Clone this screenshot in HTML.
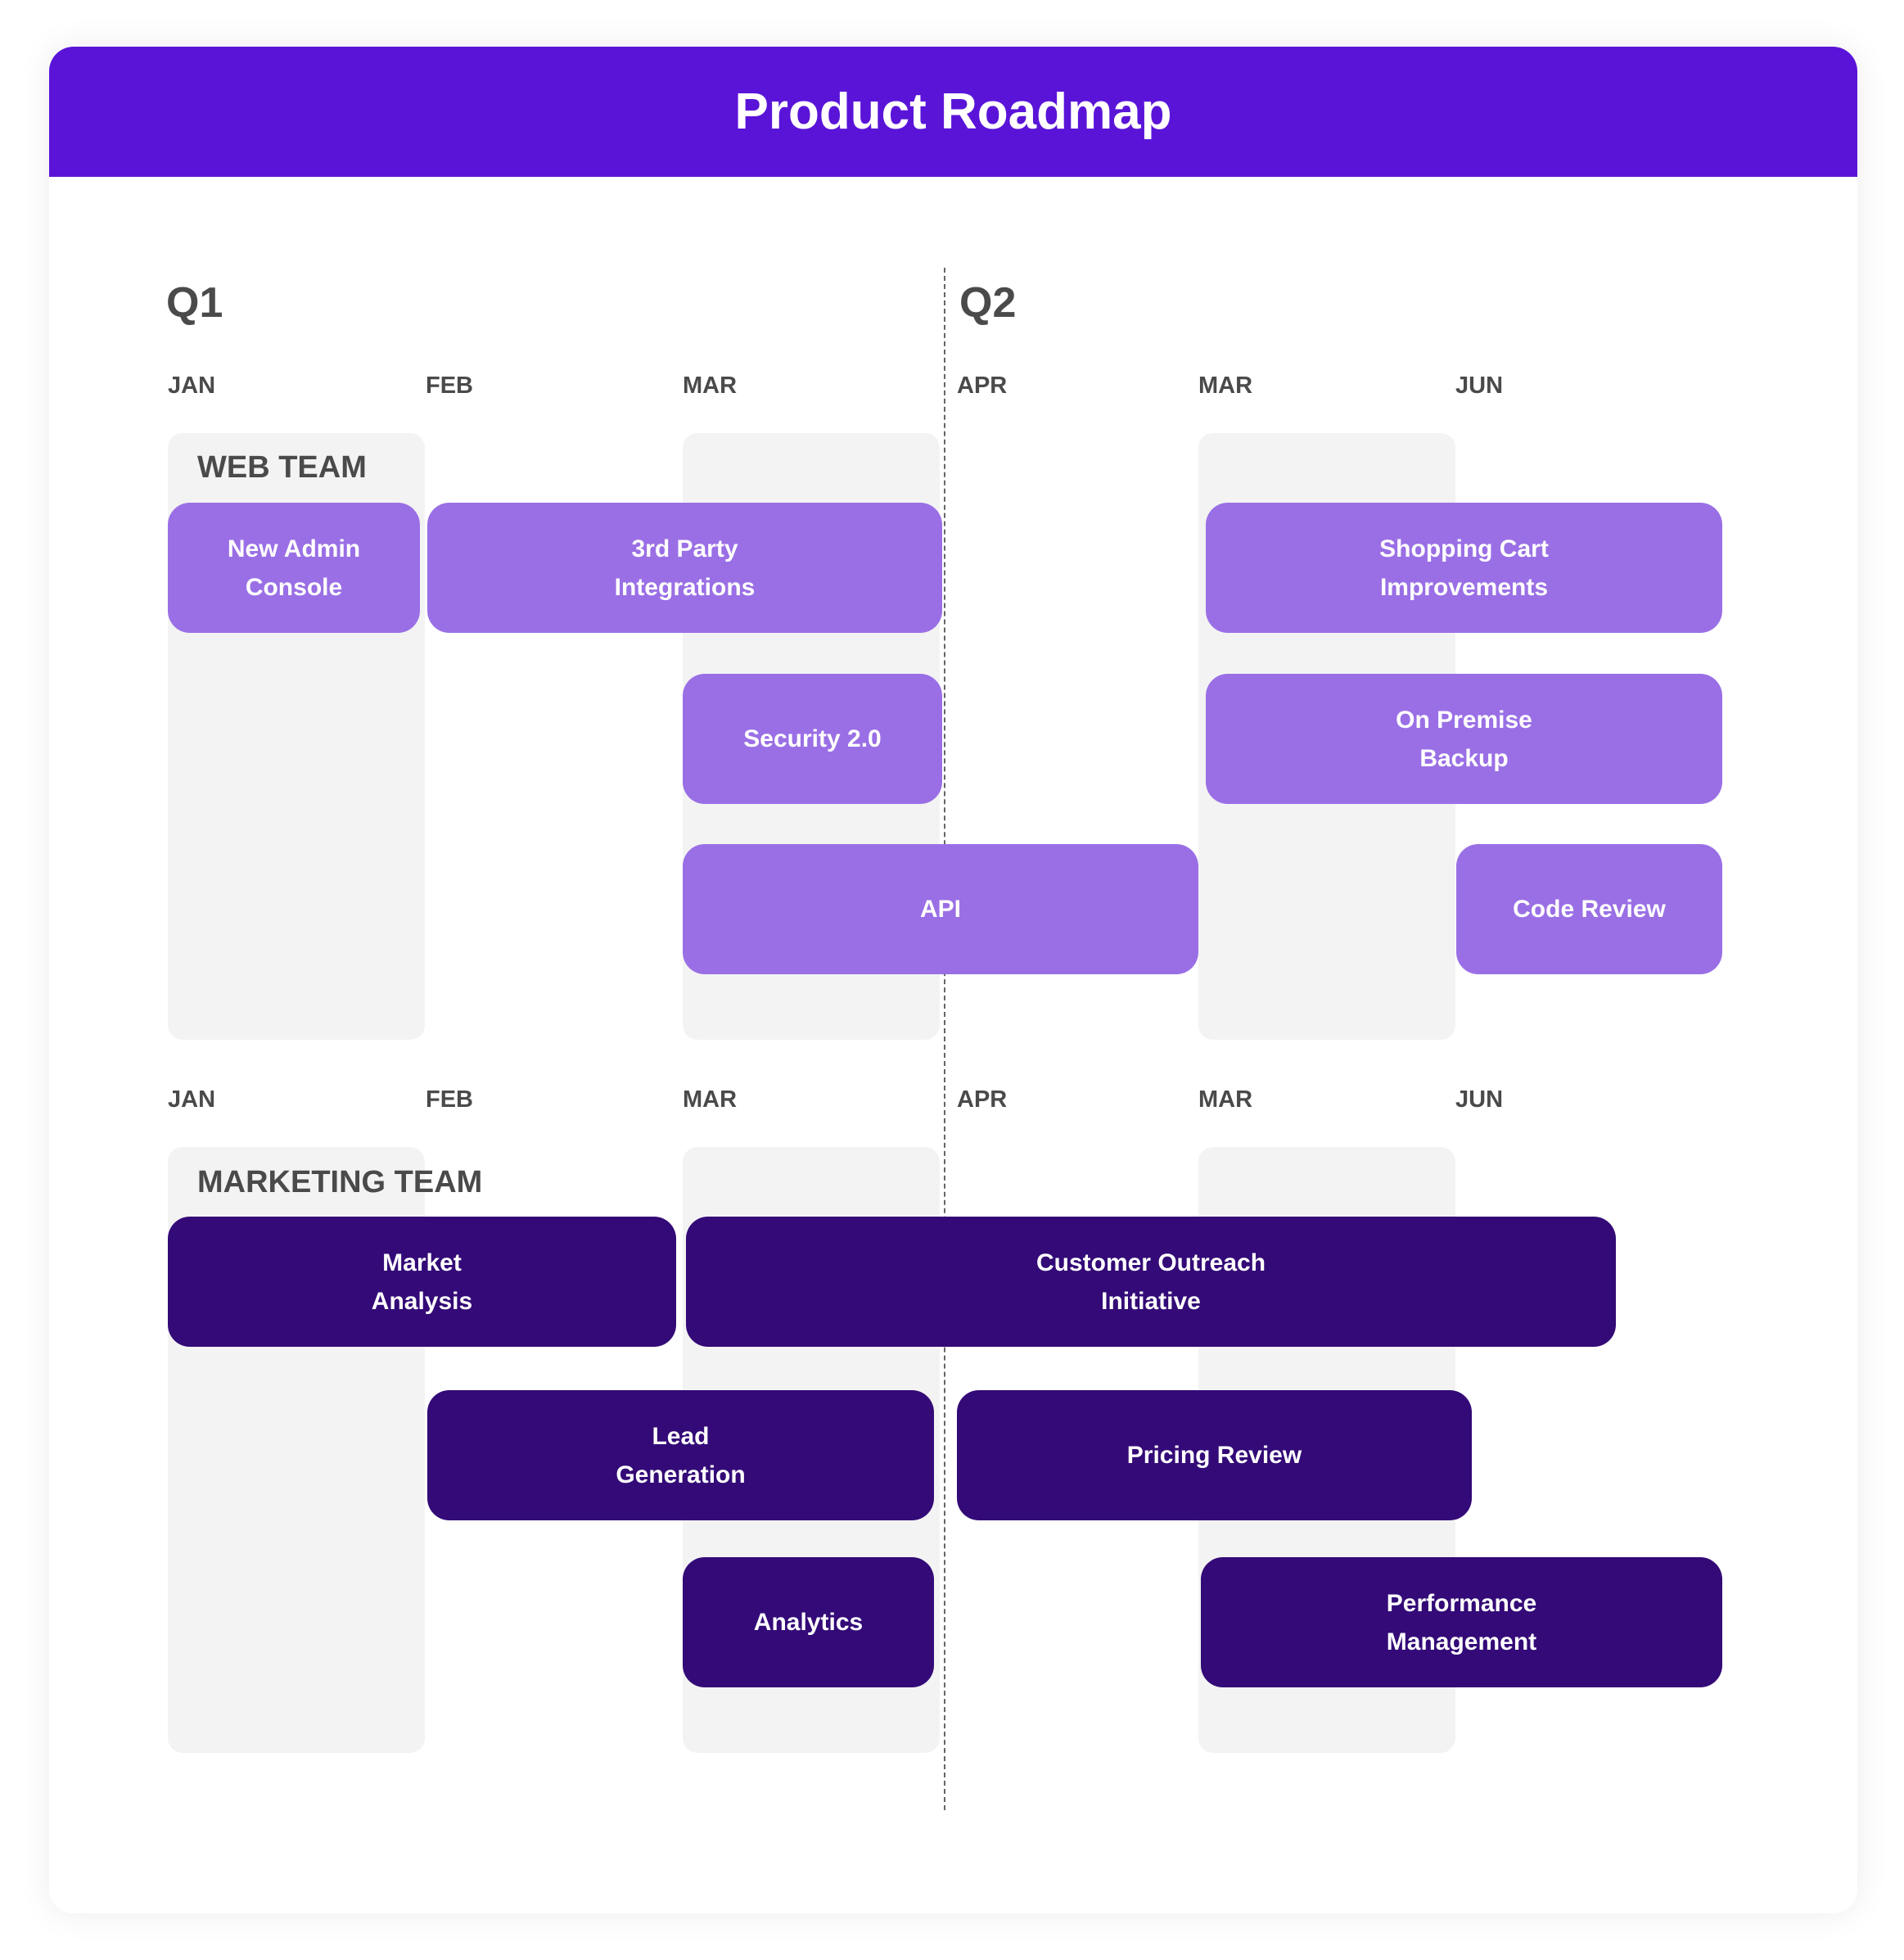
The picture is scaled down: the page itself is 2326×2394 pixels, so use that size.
<!DOCTYPE html>
<html><head><meta charset="utf-8"><style>
html,body{margin:0;padding:0;background:#fff;}
body{width:2326px;height:2394px;position:relative;overflow:hidden;font-family:"Liberation Sans",sans-serif;}
.card{position:absolute;left:60px;top:57px;width:2209px;height:2280px;background:#fff;border-radius:30px;box-shadow:0 0 40px rgba(0,0,0,0.08);overflow:hidden;}
.hdr{position:absolute;left:60px;top:57px;width:2209px;height:159px;background:#5a14d8;border-radius:30px 30px 0 0;color:#fff;font-weight:bold;font-size:62px;text-align:center;line-height:159px;}
.a{position:absolute;}
.q{font-size:52px;font-weight:bold;color:#4a4a4a;}
.m{font-size:29px;font-weight:bold;color:#4a4a4a;line-height:30px;}
.col{background:#f3f3f3;border-radius:18px;}
.t{font-size:38px;font-weight:bold;color:#4a4a4a;line-height:40px;}
.b{display:flex;align-items:center;justify-content:center;text-align:center;color:#fff;font-weight:bold;font-size:30px;line-height:47px;border-radius:27px;box-sizing:border-box;}
.l{background:#9a6fe5;}
.d{background:#330a77;}
.dash{position:absolute;left:1153px;top:327px;height:1884px;border-left:2px dashed #666;}
</style></head><body>
<div class="card"></div>
<div class="hdr">Product Roadmap</div>

<div class="a q" style="left:203px;top:340px;">Q1</div>
<div class="a q" style="left:1172px;top:340px;">Q2</div>

<div class="a m" style="left:205px;top:456px;">JAN</div>
<div class="a m" style="left:520px;top:456px;">FEB</div>
<div class="a m" style="left:834px;top:456px;">MAR</div>
<div class="a m" style="left:1169px;top:456px;">APR</div>
<div class="a m" style="left:1464px;top:456px;">MAR</div>
<div class="a m" style="left:1778px;top:456px;">JUN</div>

<div class="a col" style="left:205px;top:529px;width:314px;height:741px;"></div>
<div class="a col" style="left:834px;top:529px;width:314px;height:741px;"></div>
<div class="a col" style="left:1464px;top:529px;width:314px;height:741px;"></div>

<div class="a m" style="left:205px;top:1328px;">JAN</div>
<div class="a m" style="left:520px;top:1328px;">FEB</div>
<div class="a m" style="left:834px;top:1328px;">MAR</div>
<div class="a m" style="left:1169px;top:1328px;">APR</div>
<div class="a m" style="left:1464px;top:1328px;">MAR</div>
<div class="a m" style="left:1778px;top:1328px;">JUN</div>

<div class="a col" style="left:205px;top:1401px;width:314px;height:740px;"></div>
<div class="a col" style="left:834px;top:1401px;width:314px;height:740px;"></div>
<div class="a col" style="left:1464px;top:1401px;width:314px;height:740px;"></div>

<div class="dash"></div>

<div class="a t" style="left:241px;top:551px;">WEB TEAM</div>
<div class="a t" style="left:241px;top:1424px;">MARKETING TEAM</div>

<div class="a b l" style="left:205px;top:614px;width:308px;height:159px;">New Admin<br>Console</div>
<div class="a b l" style="left:522px;top:614px;width:629px;height:159px;">3rd Party<br>Integrations</div>
<div class="a b l" style="left:834px;top:823px;width:317px;height:159px;">Security 2.0</div>
<div class="a b l" style="left:834px;top:1031px;width:630px;height:159px;">API</div>
<div class="a b l" style="left:1473px;top:614px;width:631px;height:159px;">Shopping Cart<br>Improvements</div>
<div class="a b l" style="left:1473px;top:823px;width:631px;height:159px;">On Premise<br>Backup</div>
<div class="a b l" style="left:1779px;top:1031px;width:325px;height:159px;">Code Review</div>

<div class="a b d" style="left:205px;top:1486px;width:621px;height:159px;">Market<br>Analysis</div>
<div class="a b d" style="left:838px;top:1486px;width:1136px;height:159px;">Customer Outreach<br>Initiative</div>
<div class="a b d" style="left:522px;top:1698px;width:619px;height:159px;">Lead<br>Generation</div>
<div class="a b d" style="left:1169px;top:1698px;width:629px;height:159px;">Pricing Review</div>
<div class="a b d" style="left:834px;top:1902px;width:307px;height:159px;">Analytics</div>
<div class="a b d" style="left:1467px;top:1902px;width:637px;height:159px;">Performance<br>Management</div>
</body></html>
